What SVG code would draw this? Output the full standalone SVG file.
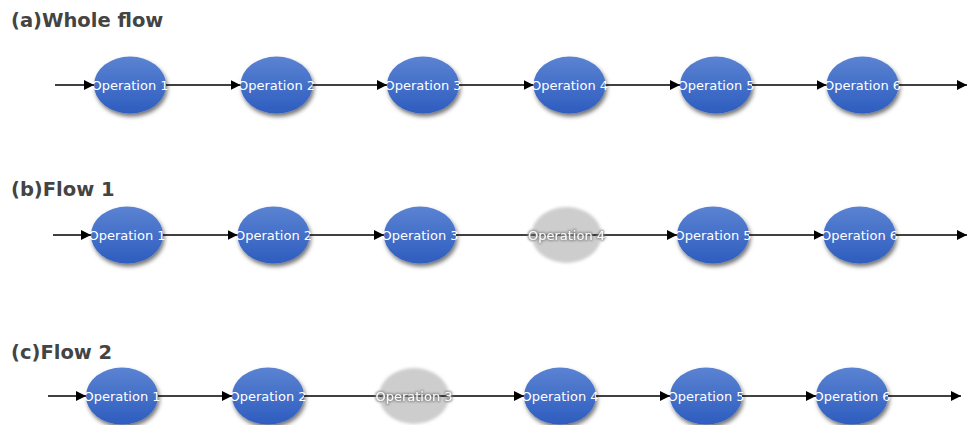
<svg xmlns="http://www.w3.org/2000/svg" width="968" height="425" viewBox="0 0 968 425">
  <defs>
    <linearGradient id="blueFill" x1="0" y1="0" x2="0" y2="1">
      <stop offset="0" stop-color="#5b83d2"/>
      <stop offset="1" stop-color="#2e5dbf"/>
    </linearGradient>
    <filter id="shadow" x="-30%" y="-30%" width="160%" height="170%">
      <feDropShadow dx="1.5" dy="3" stdDeviation="2" flood-color="#000" flood-opacity="0.55"/>
    </filter>
    <filter id="soft" x="-30%" y="-30%" width="160%" height="160%">
      <feGaussianBlur stdDeviation="1.6"/>
    </filter>
    <!-- white label with a grey halo for skipped operations -->
    <filter id="halo" x="-10%" y="-40%" width="120%" height="180%">
      <feMorphology in="SourceAlpha" operator="dilate" radius="0.7" result="grow"/>
      <feGaussianBlur in="grow" stdDeviation="0.9" result="blur"/>
      <feFlood flood-color="#8a8a8a" flood-opacity="0.9"/>
      <feComposite in2="blur" operator="in" result="glow"/>
      <feMerge>
        <feMergeNode in="glow"/>
        <feMergeNode in="SourceGraphic"/>
      </feMerge>
    </filter>
    <marker id="arrow" markerUnits="userSpaceOnUse" markerWidth="11" markerHeight="10" refX="10" refY="5" orient="auto">
      <path d="M0,0 L10,5 L0,10 Z" fill="#000"/>
    </marker>
  </defs>
  <style>
    .title { font-family: "DejaVu Sans", Verdana, sans-serif; font-weight: bold; font-size: 19.5px; fill: #444; }
    .op { fill: url(#blueFill); filter: url(#shadow); }
    .off { fill: #cdcdcd; filter: url(#soft); }
    .lbl { font-family: "DejaVu Sans", Verdana, sans-serif; font-size: 13px; fill: #fff; text-anchor: middle; dominant-baseline: central; }
    .lbl-off { fill: #fafafa; filter: url(#halo); }
    .edge { stroke: #000; stroke-width: 1.3; fill: none; }
    .to { marker-end: url(#arrow); }
  </style>

  <rect width="968" height="425" fill="#fff"/>

  <!-- section titles -->
  <text class="title" x="11" y="27">(a)Whole flow</text>
  <text class="title" x="11" y="196">(b)Flow 1</text>
  <text class="title" x="11" y="359">(c)Flow 2</text>

  <!-- (a) whole flow -->
  <g id="a-op1"><ellipse class="op" cx="130" cy="85" rx="36" ry="28.5"/><text class="lbl" x="130" y="85">Operation 1</text></g>
  <g id="a-op2"><ellipse class="op" cx="276.5" cy="85" rx="36" ry="28.5"/><text class="lbl" x="276.5" y="85">Operation 2</text></g>
  <g id="a-op3"><ellipse class="op" cx="423" cy="85" rx="36" ry="28.5"/><text class="lbl" x="423" y="85">Operation 3</text></g>
  <g id="a-op4"><ellipse class="op" cx="569.5" cy="85" rx="36" ry="28.5"/><text class="lbl" x="569.5" y="85">Operation 4</text></g>
  <g id="a-op5"><ellipse class="op" cx="716" cy="85" rx="36" ry="28.5"/><text class="lbl" x="716" y="85">Operation 5</text></g>
  <g id="a-op6"><ellipse class="op" cx="862.5" cy="85" rx="36" ry="28.5"/><text class="lbl" x="862.5" y="85">Operation 6</text></g>

  <!-- (b) flow 1: operation 4 skipped -->
  <g id="b-op1"><ellipse class="op" cx="127" cy="235" rx="36" ry="28.5"/><text class="lbl" x="127" y="235">Operation 1</text></g>
  <g id="b-op2"><ellipse class="op" cx="273.5" cy="235" rx="36" ry="28.5"/><text class="lbl" x="273.5" y="235">Operation 2</text></g>
  <g id="b-op3"><ellipse class="op" cx="420" cy="235" rx="36" ry="28.5"/><text class="lbl" x="420" y="235">Operation 3</text></g>
  <g id="b-op4"><ellipse class="off" cx="566.5" cy="235" rx="35" ry="28"/></g>
  <g id="b-op5"><ellipse class="op" cx="713" cy="235" rx="36" ry="28.5"/><text class="lbl" x="713" y="235">Operation 5</text></g>
  <g id="b-op6"><ellipse class="op" cx="859.5" cy="235" rx="36" ry="28.5"/><text class="lbl" x="859.5" y="235">Operation 6</text></g>

  <!-- (c) flow 2: operation 3 skipped -->
  <g id="c-op1"><ellipse class="op" cx="122" cy="396" rx="36" ry="28.5"/><text class="lbl" x="122" y="396">Operation 1</text></g>
  <g id="c-op2"><ellipse class="op" cx="268" cy="396" rx="36" ry="28.5"/><text class="lbl" x="268" y="396">Operation 2</text></g>
  <g id="c-op3"><ellipse class="off" cx="414" cy="396" rx="35" ry="28"/></g>
  <g id="c-op4"><ellipse class="op" cx="560" cy="396" rx="36" ry="28.5"/><text class="lbl" x="560" y="396">Operation 4</text></g>
  <g id="c-op5"><ellipse class="op" cx="706" cy="396" rx="36" ry="28.5"/><text class="lbl" x="706" y="396">Operation 5</text></g>
  <g id="c-op6"><ellipse class="op" cx="852" cy="396" rx="36" ry="28.5"/><text class="lbl" x="852" y="396">Operation 6</text></g>

  <g id="connectors">
    <!-- row a -->
    <line class="edge to" x1="55" y1="85" x2="94" y2="85"/>
    <line class="edge to" x1="166" y1="85" x2="240.5" y2="85"/>
    <line class="edge to" x1="312.5" y1="85" x2="387" y2="85"/>
    <line class="edge to" x1="459" y1="85" x2="533.5" y2="85"/>
    <line class="edge to" x1="605.5" y1="85" x2="680" y2="85"/>
    <line class="edge to" x1="752" y1="85" x2="826.5" y2="85"/>
    <line class="edge to" x1="898.5" y1="85" x2="967" y2="85"/>
    <!-- row b -->
    <line class="edge to" x1="53" y1="235" x2="91" y2="235"/>
    <line class="edge to" x1="163" y1="235" x2="237.5" y2="235"/>
    <line class="edge to" x1="309.5" y1="235" x2="384" y2="235"/>
    <line class="edge to" x1="456" y1="235" x2="677" y2="235"/>
    <line class="edge to" x1="749" y1="235" x2="823.5" y2="235"/>
    <line class="edge to" x1="895.5" y1="235" x2="967" y2="235"/>
    <!-- row c -->
    <line class="edge to" x1="48" y1="396" x2="86" y2="396"/>
    <line class="edge to" x1="158" y1="396" x2="232" y2="396"/>
    <line class="edge to" x1="304" y1="396" x2="524" y2="396"/>
    <line class="edge to" x1="596" y1="396" x2="670" y2="396"/>
    <line class="edge to" x1="742" y1="396" x2="816" y2="396"/>
    <line class="edge to" x1="888" y1="396" x2="961" y2="396"/>
  </g>

  <!-- labels of skipped operations sit above the line passing through them -->
  <text class="lbl lbl-off" x="566.5" y="235">Operation 4</text>
  <text class="lbl lbl-off" x="414" y="396">Operation 3</text>
</svg>
